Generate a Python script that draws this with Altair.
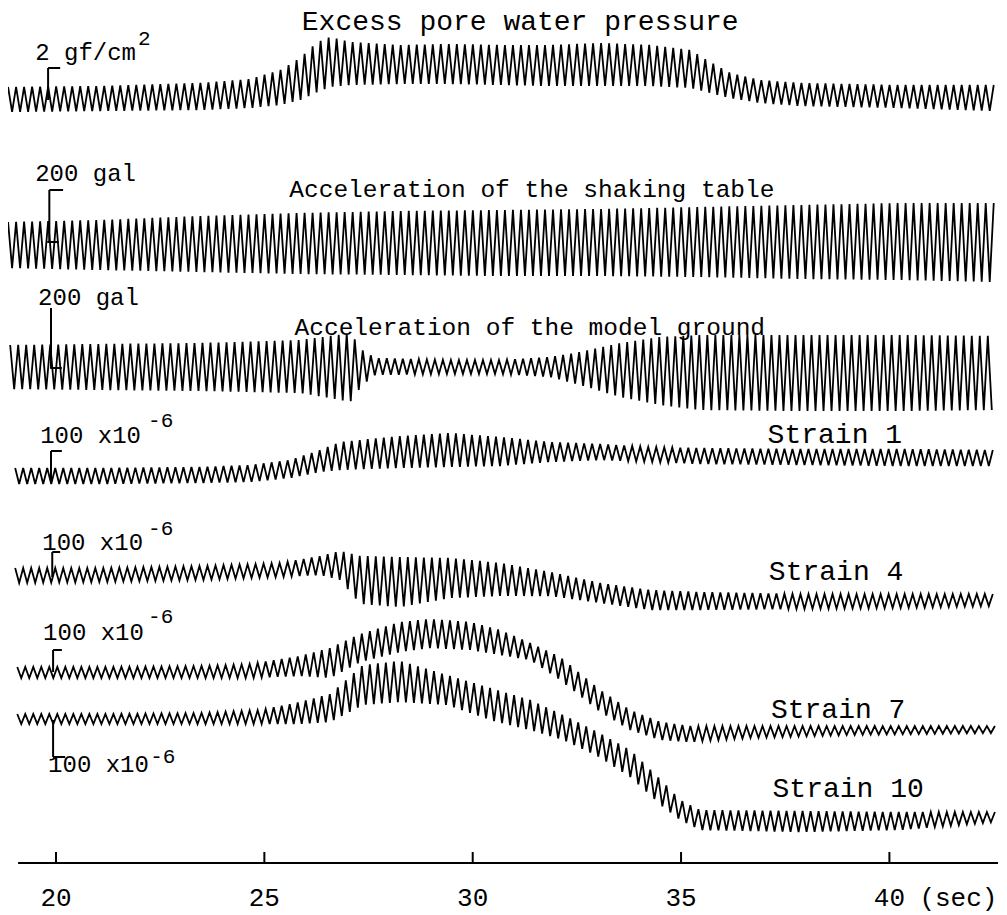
import numpy as np
import pandas as pd
import altair as alt

# ---------------- data ----------------
# time (s) of envelope readings, upper / lower envelope of each record
# (vertical values are record positions on the sheet, downward, in px)
pore_t = [18.85, 21.06, 23.46, 24.66, 25.38, 25.86, 26.27, 26.58, 27.06, 28.26, 29.46,
          30.66, 31.86, 33.06, 34.26, 35.22, 35.70, 36.18, 36.90, 37.86, 40.26, 42.54]
pore_hi = [87, 86, 83, 79, 70, 58, 42, 37, 42, 45, 44, 45, 45, 43, 45, 50, 62, 73, 80, 83, 85, 85]
pore_lo = [112, 111, 110, 108, 105, 100, 92, 87, 85, 84, 84, 85, 86, 86, 86, 88, 93, 98, 103, 106, 108, 111]

table_t = [18.85, 21.06, 23.46, 25.86, 28.26, 30.66, 33.06, 35.46, 37.86, 40.26, 42.54]
table_hi = [222, 220, 216, 213, 211, 210, 209, 207, 205, 203, 203]
table_lo = [268, 270, 272, 274, 275, 276, 276, 277, 279, 280, 282]

model_t = [18.90, 21.06, 23.46, 25.86, 26.58, 27.06, 27.35, 27.66, 29.46, 30.66, 31.86,
           32.58, 33.54, 34.50, 35.46, 37.86, 40.26, 42.54]
model_hi = [345, 344, 343, 340, 336, 333, 350, 358, 360, 360, 357, 352, 343, 337, 335, 335, 335, 336]
model_lo = [389, 390, 391, 393, 398, 402, 385, 375, 374, 374, 377, 385, 397, 405, 410, 411, 411, 410]

s1_t = [19.02, 21.06, 23.46, 24.66, 25.62, 26.34, 26.82, 28.26, 29.46, 30.66, 31.86,
        33.06, 34.26, 35.46, 37.86, 40.26, 42.54]
s1_hi = [468, 468, 467, 465, 460, 450, 442, 436, 433, 437, 442, 444, 447, 448, 449, 449, 450]
s1_lo = [484, 484, 483, 482, 478, 472, 470, 468, 467, 466, 462, 460, 462, 464, 465, 466, 466]

s4_t = [19.02, 21.06, 23.46, 25.38, 26.34, 26.82, 27.30, 28.26, 29.46, 30.66, 31.86,
        33.06, 34.26, 35.46, 37.86, 40.26, 42.54]
s4_hi = [568, 568, 566, 563, 556, 551, 556, 557, 558, 563, 572, 583, 590, 592, 594, 594, 594]
s4_lo = [583, 582, 580, 577, 575, 580, 604, 607, 598, 596, 596, 603, 610, 610, 609, 608, 606]

s7_t = [19.07, 21.06, 23.46, 24.66, 25.86, 26.58, 27.30, 28.26, 28.98, 29.94, 30.66,
        31.38, 32.10, 33.06, 33.78, 34.50, 35.22, 36.66, 39.06, 42.54]
s7_hi = [667, 667, 666, 664, 656, 648, 634, 622, 619, 622, 630, 643, 657, 690, 710, 722, 726, 726, 726, 726]
s7_lo = [678, 678, 678, 678, 676, 678, 662, 652, 648, 650, 655, 660, 680, 712, 730, 740, 742, 738, 735, 733]

s10_t = [19.07, 21.06, 23.46, 24.90, 25.86, 26.58, 27.37, 28.26, 29.38, 30.58, 31.38,
         32.17, 32.99, 33.78, 34.57, 34.98, 35.46, 37.86, 40.26, 42.54]
s10_hi = [714, 714, 713, 710, 702, 694, 665, 661, 675, 690, 700, 715, 732, 750, 782, 800, 810, 811, 812, 812]
s10_lo = [724, 724, 724, 724, 724, 722, 705, 702, 705, 722, 730, 740, 756, 777, 807, 820, 830, 832, 830, 822]

shaking_freq = 5.2  # Hz, counted from the records

tick_values = [20, 25, 30, 35, 40]
tick_labels = ["20", "25", "30", "35", "40"]

# ---------------- build records ----------------
records = [
    ("pore", pore_t, pore_hi, pore_lo),
    ("table", table_t, table_hi, table_lo),
    ("model", model_t, model_hi, model_lo),
    ("s1", s1_t, s1_hi, s1_lo),
    ("s4", s4_t, s4_hi, s4_lo),
    ("s7", s7_t, s7_hi, s7_lo),
    ("s10", s10_t, s10_hi, s10_lo),
]
frames = []
for name, ts, hi, lo in records:
    tt = np.arange(ts[0], ts[-1], 0.5 / shaking_freq)
    h = np.interp(tt, ts, hi)
    l = np.interp(tt, ts, lo)
    y = np.where(np.arange(len(tt)) % 2 == 0, h, l)
    frames.append(pd.DataFrame({"t": tt, "y": y, "trace": name, "i": np.arange(len(tt))}))
df = pd.concat(frames, ignore_index=True)

W, H = 990, 905
xs = alt.Scale(domain=[18.848, 42.606], nice=False, zero=False)
ys = alt.Scale(domain=[8, 8 + H], reverse=True, nice=False, zero=False)
FONT = "Liberation Mono"

base_x = dict(scale=xs, axis=None)
base_y = dict(scale=ys, axis=None)

lines = alt.Chart(df).mark_line(color="black", strokeWidth=1.8).encode(
    x=alt.X("t:Q", **base_x), y=alt.Y("y:Q", **base_y),
    detail="trace:N", order="i:Q")

# calibration bars
bars = pd.DataFrame({
    "t": [19.81, 19.84, 19.88, 19.88, 19.91, 19.93, 19.93],
    "y1": [68, 190, 308, 451, 552, 650, 720],
    "y2": [100, 242, 368, 480, 577, 672, 757],
})
vbars = alt.Chart(bars).mark_rule(color="black", strokeWidth=2).encode(
    x=alt.X("t:Q", **base_x), y=alt.Y("y1:Q", **base_y), y2="y2:Q")
hooks = pd.DataFrame({
    "t1": [19.81, 19.84, 19.79, 19.86, 19.88, 19.91, 19.93, 19.93],
    "t2": [20.10, 20.17, 20.06, 20.14, 20.14, 20.10, 20.14, 20.22],
    "y": [68, 190, 242, 368, 451, 552, 650, 757],
})
hbars = alt.Chart(hooks).mark_rule(color="black", strokeWidth=2).encode(
    x=alt.X("t1:Q", **base_x), x2="t2:Q", y=alt.Y("y:Q", **base_y))

# time axis
axis_line = alt.Chart(pd.DataFrame({"a": [19.09], "b": [42.606], "y": [863]})).mark_rule(
    color="black", strokeWidth=2).encode(x=alt.X("a:Q", **base_x), x2="b:Q", y=alt.Y("y:Q", **base_y))
ticks_df = pd.DataFrame({"t": tick_values, "lab": tick_labels, "y1": 852, "y2": 863, "yl": 906})
ticks = alt.Chart(ticks_df).mark_rule(color="black", strokeWidth=2).encode(
    x=alt.X("t:Q", **base_x), y=alt.Y("y1:Q", **base_y), y2="y2:Q")
tick_text = alt.Chart(ticks_df).mark_text(font=FONT, fontSize=26, align="center",
                                           baseline="alphabetic", color="black").encode(
    x=alt.X("t:Q", **base_x), y=alt.Y("yl:Q", **base_y), text="lab:N")

def txt(s, t, y, size, align="left"):
    return alt.Chart(pd.DataFrame({"s": [s]})).mark_text(
        font=FONT, fontSize=size, align=align, baseline="alphabetic", color="black").encode(
        x=alt.datum(t, scale=xs, axis=None), y=alt.datum(y, scale=ys, axis=None), text="s:N")

texts = [
    txt("(sec)", 40.72, 906, 26),
    txt("Excess pore water pressure", 31.14, 30, 28, "center"),
    txt("Acceleration of the shaking table", 31.42, 197, 24.5, "center"),
    txt("Acceleration of the model ground", 31.37, 335, 24.5, "center"),
    txt("Strain 1", 38.69, 443, 28, "center"),
    txt("Strain 4", 38.72, 580, 28, "center"),
    txt("Strain 7", 38.77, 718, 28, "center"),
    txt("Strain 10", 39.01, 797, 28, "center"),
    txt("2 gf/cm", 19.50, 60, 24),
    txt("2", 21.97, 45, 21),
    txt("200 gal", 19.50, 181, 24),
    txt("200 gal", 19.57, 305, 24),
    txt("100 x10", 19.62, 443, 24),
    txt("-6", 22.21, 427, 21),
    txt("100 x10", 19.67, 550, 24),
    txt("-6", 22.21, 535, 21),
    txt("100 x10", 19.69, 640, 24),
    txt("-6", 22.21, 623, 21),
    txt("100 x10", 19.81, 772, 24),
    txt("-6", 22.26, 763, 21),
]

chart = alt.layer(lines, vbars, hbars, axis_line, ticks, tick_text, *texts).properties(
    width=W, height=H, padding=0, autosize=alt.AutoSizeParams(type="none"),
    background="white"
).configure_view(stroke=None)

chart.save("out.html", embed_options={"renderer": "svg", "actions": False})
